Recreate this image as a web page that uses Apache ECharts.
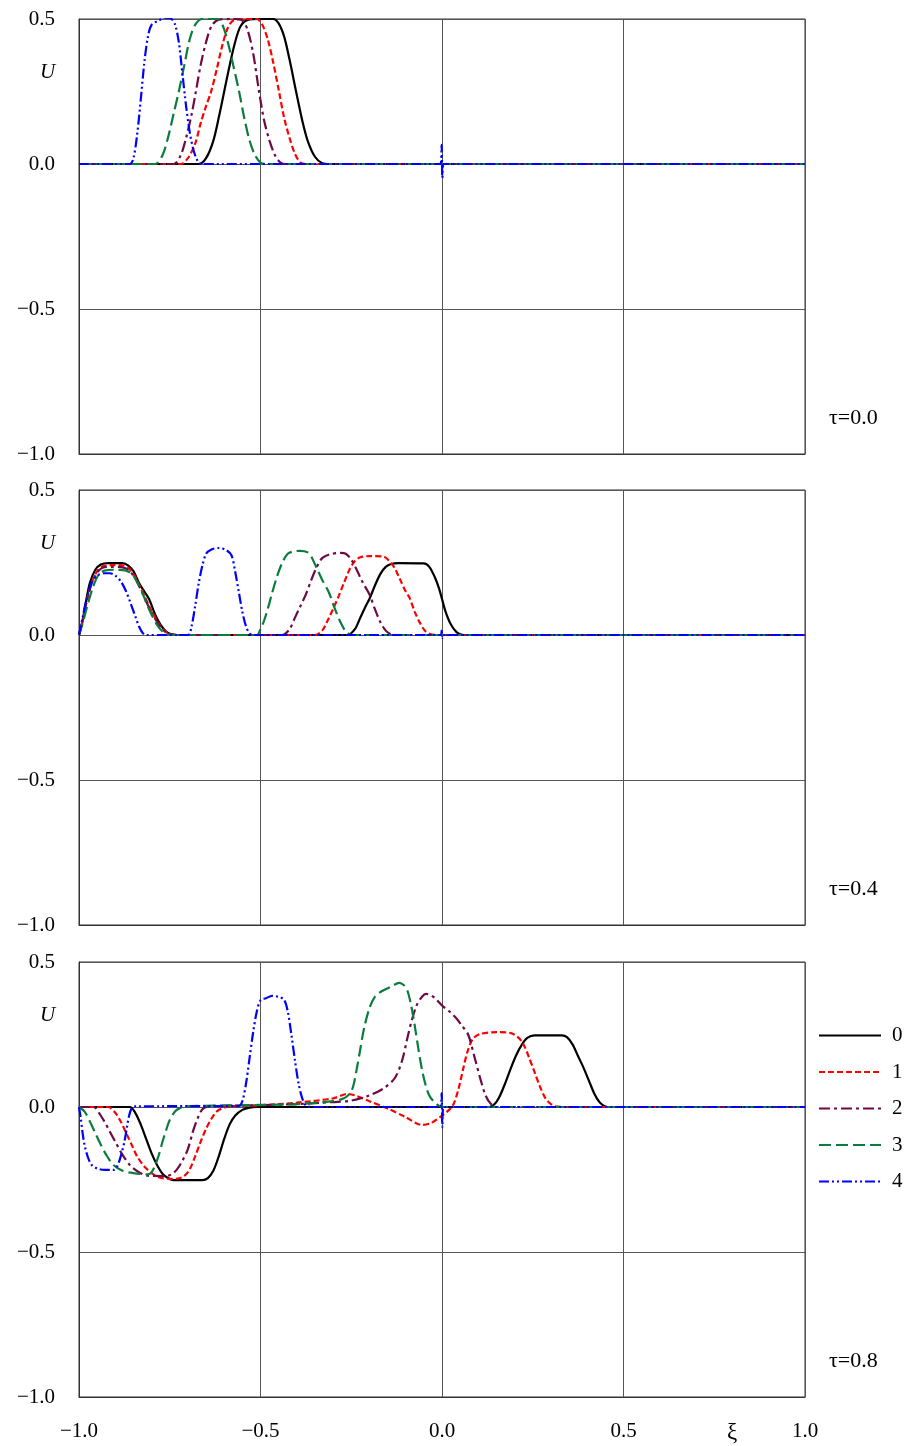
<!DOCTYPE html>
<html>
<head>
<meta charset="utf-8">
<script src="https://cdn.jsdelivr.net/npm/echarts@6/dist/echarts.min.js"></script>
<style>
html,body{margin:0;padding:0;background:#fff;}
#chart{width:907px;height:1446px;}
</style>
</head>
<body>
<div id="chart"></div>
<script>
// ---- Data ----
const seriesNames = ['0', '1', '2', '3', '4'];
const panelLabels = ['τ=0.0', 'τ=0.4', 'τ=0.8'];
const yTicks = [-1.0, -0.5, 0.0, 0.5];
const xTicks = [-1.0, -0.5, 0.0, 0.5, 1.0];

// Panel τ=0.0
const t0_c0 = [[-1,0],[-0.67,0],[-0.65,0.02],[-0.63,0.08],[-0.615,0.16],[-0.60,0.25],[-0.585,0.34],[-0.57,0.42],[-0.555,0.475],[-0.535,0.497],[-0.5,0.5],[-0.465,0.5],[-0.45,0.485],[-0.435,0.44],[-0.42,0.36],[-0.402,0.25],[-0.385,0.15],[-0.37,0.08],[-0.35,0.025],[-0.33,0.003],[-0.31,0],[1,0]];
const t0_c1 = [[-1,0],[-0.72,0],[-0.70,0.02],[-0.68,0.07],[-0.665,0.14],[-0.65,0.2],[-0.636,0.25],[-0.62,0.33],[-0.605,0.41],[-0.59,0.47],[-0.575,0.495],[-0.55,0.5],[-0.51,0.5],[-0.495,0.48],[-0.48,0.43],[-0.465,0.35],[-0.449,0.25],[-0.435,0.16],[-0.42,0.09],[-0.405,0.035],[-0.39,0.005],[-0.375,0],[1,0]];
const t0_c2 = [[-1,0],[-0.74,0],[-0.72,0.03],[-0.705,0.09],[-0.69,0.17],[-0.678,0.25],[-0.665,0.34],[-0.65,0.42],[-0.635,0.475],[-0.615,0.498],[-0.58,0.5],[-0.55,0.495],[-0.535,0.46],[-0.52,0.38],[-0.504,0.25],[-0.49,0.15],[-0.475,0.08],[-0.46,0.03],[-0.445,0.005],[-0.43,0],[1,0]];
const t0_c3 = [[-1,0],[-0.79,0],[-0.77,0.03],[-0.755,0.09],[-0.74,0.17],[-0.725,0.25],[-0.71,0.34],[-0.695,0.43],[-0.68,0.48],[-0.66,0.5],[-0.62,0.5],[-0.605,0.48],[-0.59,0.42],[-0.575,0.34],[-0.559,0.25],[-0.545,0.16],[-0.53,0.08],[-0.515,0.03],[-0.5,0.005],[-0.485,0],[1,0]];
const t0_c4 = [[-1,0],[-0.86,0],[-0.85,0.02],[-0.84,0.1],[-0.83,0.22],[-0.82,0.35],[-0.81,0.44],[-0.8,0.48],[-0.78,0.495],[-0.76,0.505],[-0.745,0.5],[-0.735,0.48],[-0.725,0.42],[-0.715,0.31],[-0.705,0.2],[-0.695,0.11],[-0.685,0.05],[-0.675,0.015],[-0.665,0],[-0.004,0],[-0.001,0.066],[0.001,-0.048],[0.004,0],[1,0]];

// Panel τ=0.4
const t4_c0 = [[-1,0],[-0.99,0.05],[-0.98,0.12],[-0.97,0.18],[-0.955,0.225],[-0.94,0.243],[-0.92,0.248],[-0.88,0.248],[-0.865,0.24],[-0.85,0.22],[-0.835,0.18],[-0.82,0.15],[-0.807,0.124],[-0.79,0.07],[-0.775,0.035],[-0.76,0.012],[-0.745,0.002],[-0.73,0],[-0.26,0],[-0.24,0.02],[-0.225,0.06],[-0.21,0.1],[-0.2,0.124],[-0.185,0.17],[-0.17,0.21],[-0.155,0.235],[-0.14,0.245],[-0.12,0.248],[-0.05,0.247],[-0.035,0.235],[-0.02,0.2],[-0.008,0.16],[0,0.124],[0.01,0.08],[0.025,0.035],[0.04,0.01],[0.055,0.001],[0.07,0],[1,0]];
const t4_c1 = [[-1,0],[-0.99,0.05],[-0.98,0.11],[-0.965,0.18],[-0.95,0.22],[-0.935,0.237],[-0.91,0.241],[-0.88,0.24],[-0.865,0.232],[-0.85,0.21],[-0.835,0.175],[-0.82,0.135],[-0.805,0.095],[-0.79,0.06],[-0.775,0.03],[-0.76,0.01],[-0.745,0.002],[-0.73,0],[-0.35,0],[-0.33,0.015],[-0.315,0.05],[-0.3,0.09],[-0.284,0.136],[-0.27,0.18],[-0.255,0.225],[-0.24,0.255],[-0.225,0.268],[-0.2,0.272],[-0.16,0.27],[-0.145,0.255],[-0.13,0.23],[-0.115,0.19],[-0.1,0.15],[-0.09,0.13],[-0.075,0.08],[-0.06,0.04],[-0.045,0.012],[-0.03,0.002],[-0.015,0],[1,0]];
const t4_c2 = [[-1,0],[-0.99,0.05],[-0.98,0.11],[-0.965,0.18],[-0.95,0.215],[-0.935,0.232],[-0.91,0.235],[-0.88,0.233],[-0.865,0.225],[-0.85,0.205],[-0.835,0.17],[-0.82,0.13],[-0.805,0.09],[-0.79,0.055],[-0.775,0.027],[-0.76,0.009],[-0.745,0.002],[-0.73,0],[-0.44,0],[-0.42,0.02],[-0.405,0.06],[-0.39,0.1],[-0.375,0.14],[-0.36,0.19],[-0.345,0.235],[-0.33,0.265],[-0.31,0.278],[-0.28,0.283],[-0.265,0.28],[-0.25,0.26],[-0.235,0.225],[-0.22,0.185],[-0.2,0.14],[-0.185,0.09],[-0.17,0.045],[-0.155,0.015],[-0.14,0.002],[-0.125,0],[1,0]];
const t4_c3 = [[-1,0],[-0.99,0.04],[-0.975,0.11],[-0.96,0.17],[-0.945,0.21],[-0.93,0.222],[-0.9,0.225],[-0.87,0.222],[-0.855,0.21],[-0.84,0.185],[-0.825,0.145],[-0.815,0.112],[-0.8,0.07],[-0.785,0.035],[-0.77,0.012],[-0.755,0.002],[-0.74,0],[-0.51,0],[-0.5,0.02],[-0.49,0.05],[-0.48,0.09],[-0.468,0.145],[-0.455,0.2],[-0.44,0.25],[-0.425,0.28],[-0.41,0.288],[-0.39,0.29],[-0.37,0.285],[-0.36,0.27],[-0.345,0.23],[-0.33,0.19],[-0.311,0.145],[-0.295,0.09],[-0.28,0.045],[-0.265,0.012],[-0.25,0.001],[-0.235,0],[1,0]];
const t4_c4 = [[-1,0],[-0.99,0.06],[-0.98,0.12],[-0.965,0.18],[-0.95,0.205],[-0.93,0.213],[-0.915,0.213],[-0.9,0.205],[-0.885,0.185],[-0.87,0.15],[-0.858,0.11],[-0.845,0.065],[-0.835,0.03],[-0.825,0.008],[-0.815,0],[-0.70,0],[-0.69,0.03],[-0.68,0.1],[-0.67,0.18],[-0.66,0.24],[-0.65,0.28],[-0.635,0.295],[-0.615,0.3],[-0.595,0.293],[-0.58,0.275],[-0.57,0.22],[-0.56,0.15],[-0.55,0.08],[-0.54,0.03],[-0.53,0.005],[-0.52,0],[-0.003,0],[-0.001,0.015],[0.001,-0.01],[0.003,0],[1,0]];

// Panel τ=0.8
const t8_c0 = [[-1,0],[-0.86,0],[-0.845,-0.02],[-0.83,-0.06],[-0.815,-0.11],[-0.8,-0.16],[-0.785,-0.2],[-0.77,-0.23],[-0.755,-0.245],[-0.74,-0.252],[-0.66,-0.252],[-0.645,-0.245],[-0.63,-0.22],[-0.615,-0.17],[-0.6,-0.11],[-0.585,-0.06],[-0.57,-0.03],[-0.55,-0.01],[-0.53,-0.002],[-0.51,0],[0.13,0],[0.145,0.01],[0.16,0.04],[0.175,0.085],[0.19,0.135],[0.205,0.18],[0.22,0.215],[0.235,0.238],[0.255,0.247],[0.33,0.247],[0.345,0.24],[0.36,0.215],[0.375,0.175],[0.39,0.135],[0.405,0.09],[0.42,0.045],[0.435,0.015],[0.45,0.002],[0.465,0],[1,0]];
const t8_c1 = [[-1,0],[-0.92,0],[-0.9,-0.02],[-0.885,-0.05],[-0.87,-0.09],[-0.855,-0.13],[-0.84,-0.17],[-0.82,-0.205],[-0.8,-0.228],[-0.78,-0.242],[-0.75,-0.248],[-0.725,-0.246],[-0.71,-0.238],[-0.695,-0.215],[-0.68,-0.17],[-0.665,-0.12],[-0.65,-0.075],[-0.635,-0.04],[-0.62,-0.015],[-0.6,-0.002],[-0.58,0.003],[-0.5,0.006],[-0.4,0.015],[-0.3,0.03],[-0.26,0.045],[-0.24,0.04],[-0.2,0.02],[-0.15,-0.005],[-0.1,-0.035],[-0.055,-0.062],[-0.03,-0.055],[0,-0.03],[0.015,-0.015],[0.03,0.005],[0.045,0.06],[0.058,0.13],[0.07,0.19],[0.085,0.235],[0.105,0.252],[0.15,0.258],[0.19,0.255],[0.21,0.24],[0.225,0.215],[0.24,0.17],[0.255,0.12],[0.27,0.07],[0.285,0.03],[0.3,0.01],[0.32,0.001],[0.34,0],[1,0]];
const t8_c2 = [[-1,0],[-0.96,0],[-0.945,-0.02],[-0.93,-0.05],[-0.915,-0.085],[-0.9,-0.12],[-0.88,-0.165],[-0.86,-0.2],[-0.835,-0.225],[-0.81,-0.237],[-0.76,-0.238],[-0.745,-0.232],[-0.73,-0.215],[-0.715,-0.185],[-0.7,-0.145],[-0.685,-0.08],[-0.67,-0.03],[-0.66,-0.008],[-0.645,0.002],[-0.62,0.004],[-0.5,0.006],[-0.4,0.01],[-0.3,0.017],[-0.25,0.022],[-0.2,0.04],[-0.16,0.065],[-0.13,0.1],[-0.11,0.16],[-0.095,0.24],[-0.083,0.3],[-0.07,0.35],[-0.055,0.38],[-0.044,0.39],[-0.03,0.385],[-0.015,0.37],[0,0.35],[0.02,0.33],[0.04,0.305],[0.055,0.28],[0.072,0.25],[0.09,0.17],[0.105,0.1],[0.12,0.04],[0.135,0.01],[0.15,0],[1,0]];
const t8_c3 = [[-1,0],[-0.985,-0.015],[-0.97,-0.05],[-0.955,-0.09],[-0.94,-0.13],[-0.925,-0.165],[-0.905,-0.2],[-0.88,-0.22],[-0.85,-0.228],[-0.81,-0.232],[-0.8,-0.225],[-0.79,-0.2],[-0.78,-0.165],[-0.77,-0.12],[-0.76,-0.08],[-0.75,-0.045],[-0.735,-0.015],[-0.72,-0.003],[-0.705,0.002],[-0.67,0.004],[-0.5,0.007],[-0.4,0.01],[-0.3,0.02],[-0.27,0.03],[-0.255,0.045],[-0.245,0.07],[-0.235,0.13],[-0.225,0.2],[-0.215,0.27],[-0.2,0.34],[-0.185,0.38],[-0.165,0.4],[-0.14,0.415],[-0.118,0.428],[-0.105,0.42],[-0.095,0.4],[-0.085,0.35],[-0.075,0.28],[-0.065,0.2],[-0.055,0.128],[-0.045,0.075],[-0.035,0.04],[-0.02,0.015],[-0.005,0.002],[0.01,0],[1,0]];
const t8_c4 = [[-1,0],[-0.995,-0.04],[-0.99,-0.09],[-0.985,-0.13],[-0.975,-0.175],[-0.965,-0.2],[-0.95,-0.212],[-0.93,-0.217],[-0.905,-0.217],[-0.895,-0.205],[-0.885,-0.17],[-0.875,-0.12],[-0.868,-0.07],[-0.862,-0.03],[-0.855,-0.005],[-0.845,0.002],[-0.6,0.003],[-0.56,0.003],[-0.55,0.02],[-0.54,0.08],[-0.53,0.17],[-0.52,0.26],[-0.51,0.33],[-0.5,0.368],[-0.485,0.375],[-0.468,0.383],[-0.45,0.38],[-0.435,0.37],[-0.425,0.33],[-0.415,0.25],[-0.405,0.16],[-0.395,0.08],[-0.385,0.03],[-0.375,0.005],[-0.36,0],[-0.004,0],[-0.001,0.048],[0.001,-0.07],[0.004,0],[1,0]];

const panels = [
  [t0_c0, t0_c1, t0_c2, t0_c3, t0_c4],
  [t4_c0, t4_c1, t4_c2, t4_c3, t4_c4],
  [t8_c0, t8_c1, t8_c2, t8_c3, t8_c4]
];

// ---- Styles ----
const colors = ['#000000', '#ff0000', '#6e0a45', '#0a7d3e', '#0000ff'];
const dashes = ['solid', [6, 3], [11, 4, 3, 4], [12, 5], [10, 3, 2, 3, 2, 3]];
const FONT = '"Liberation Serif", "DejaVu Serif", serif';
const gridTops = [19, 490, 962];
const gridLeft = 79, gridW = 726, gridH = 435;

function fmt(v) {
  const s = Math.abs(v).toFixed(1);
  return (v < -1e-9 ? '\u2212' : '') + s;
}

const grids = [], xAxes = [], yAxes = [], series = [], graphics = [];
gridTops.forEach((top, p) => {
  grids.push({left: gridLeft, top: top, width: gridW, height: gridH, show: true, borderColor: '#333', borderWidth: 1, backgroundColor: 'transparent'});
  xAxes.push({
    type: 'value', gridIndex: p, min: xTicks[0], max: xTicks[xTicks.length - 1], interval: 0.5,
    axisLine: {show: true, onZero: false, lineStyle: {color: '#333', width: 1}},
    axisTick: {show: false},
    splitLine: {show: true, lineStyle: {color: '#555', width: 1}},
    axisLabel: {show: p === 2, formatter: fmt, fontFamily: FONT, fontSize: 21, color: '#000', margin: 24}
  });
  yAxes.push({
    type: 'value', gridIndex: p, min: yTicks[0], max: yTicks[yTicks.length - 1], interval: 0.5,
    axisLine: {show: true, onZero: false, lineStyle: {color: '#333', width: 1}},
    axisTick: {show: false},
    splitLine: {show: true, lineStyle: {color: '#555', width: 1}},
    axisLabel: {show: true, formatter: fmt, fontFamily: FONT, fontSize: 21, color: '#000', margin: 24}
  });
  panels[p].forEach((data, i) => {
    series.push({
      name: seriesNames[i], type: 'line', xAxisIndex: p, yAxisIndex: p,
      data: data, showSymbol: false, symbol: 'none',
      smooth: 0.3,
      z: 2 + i,
      lineStyle: {color: colors[i], width: 2.2, type: dashes[i]},
      itemStyle: {color: colors[i]},
      animation: false
    });
  });
  graphics.push({type: 'text', left: 40, top: top + 43, style: {text: 'U', font: 'italic 21px ' + FONT, fill: '#000'}});
  graphics.push({type: 'text', left: 829, top: top + 388, style: {text: panelLabels[p], font: '22px ' + FONT, fill: '#000'}});
});
graphics.push({type: 'text', left: 727, top: 1421, style: {text: 'ξ', font: '23px ' + FONT, fill: '#000'}});

const chart = echarts.init(document.getElementById('chart'), null, {renderer: 'canvas'});
chart.setOption({
  animation: false,
  backgroundColor: '#ffffff',
  grid: grids, xAxis: xAxes, yAxis: yAxes, series: series,
  graphic: graphics,
  legend: {
    data: seriesNames,
    orient: 'vertical', left: 813, top: 1020,
    itemWidth: 62, itemHeight: 16, itemGap: 15.5,
    itemStyle: {opacity: 0},
    textStyle: {fontFamily: FONT, fontSize: 21, color: '#000', padding: [0, 0, 0, 6]},
    selectedMode: false
  }
});
</script>
</body>
</html>
